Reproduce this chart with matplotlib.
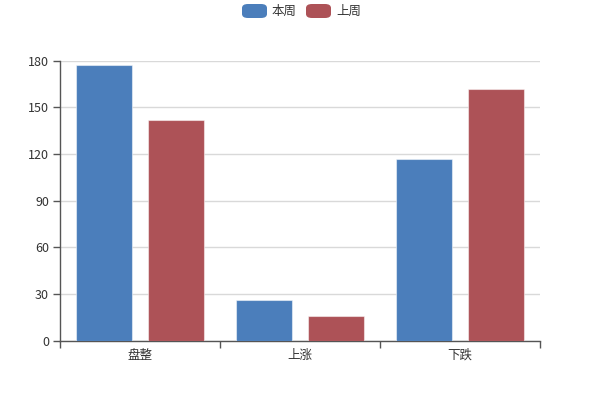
import matplotlib
matplotlib.use("Agg")
import matplotlib.pyplot as plt
from matplotlib.patches import FancyBboxPatch
import numpy as np

plt.rcParams['font.family'] = ['Noto Sans CJK SC', 'DejaVu Sans']

categories = ["盘整", "上涨", "下跌"]
series_names = ["本周", "上周"]
this_week = [177, 26, 117]
last_week = [142, 16, 162]
y_ticks = [0, 30, 60, 90, 120, 150, 180]
colors = ["#4b7ebb", "#ad5257"]

fig = plt.figure(figsize=(6, 4), dpi=100)
ax = fig.add_axes([60/600, (400-340.5)/400, 480/600, 280/400])

x = np.arange(len(categories))
w = 0.35
off = 0.227
for vals, dx, c in [(this_week, -off, colors[0]), (last_week, off, colors[1])]:
    ax.bar(x + dx, vals, width=w, color=c, edgecolor=(1, 1, 1, 0.5), linewidth=0.8, zorder=3)

ax.set_xlim(-0.5, len(categories) - 0.5)
ax.set_ylim(0, 180)
ax.set_yticks(y_ticks)
ax.set_yticklabels([str(v) for v in y_ticks])
ax.yaxis.grid(True, color="#d9d9d9", linewidth=1, zorder=0)
ax.set_axisbelow(True)

ax.set_xticks(x)
ax.set_xticklabels(categories)
ax.set_xticks(np.arange(len(categories) + 1) - 0.5, minor=True)
ax.tick_params(axis='x', which='major', length=0, pad=6, labelsize=9, colors="#333333")
ax.tick_params(axis='x', which='minor', length=5, direction='out', color="#555555", width=1)
ax.tick_params(axis='y', length=5, direction='out', color="#555555", width=1, labelsize=9, labelcolor="#333333", pad=3)

for s in ["top", "right"]:
    ax.spines[s].set_visible(False)
for s in ["left", "bottom"]:
    ax.spines[s].set_color("#555555")
    ax.spines[s].set_linewidth(1)

# legend at top center
legend_x = [242, 306]
for name, c, lx in zip(series_names, colors, legend_x):
    box = FancyBboxPatch((lx/600, (400-18)/400), 25/600, 14/400,
                         boxstyle="round,pad=0,rounding_size=0.01",
                         transform=fig.transFigure, facecolor=c, edgecolor='none')
    fig.patches.append(box)
    fig.text((lx + 30)/600, (400-11)/400, name, ha='left', va='center',
             fontsize=9, color="#333333")

fig.savefig("out.png", dpi=100)
